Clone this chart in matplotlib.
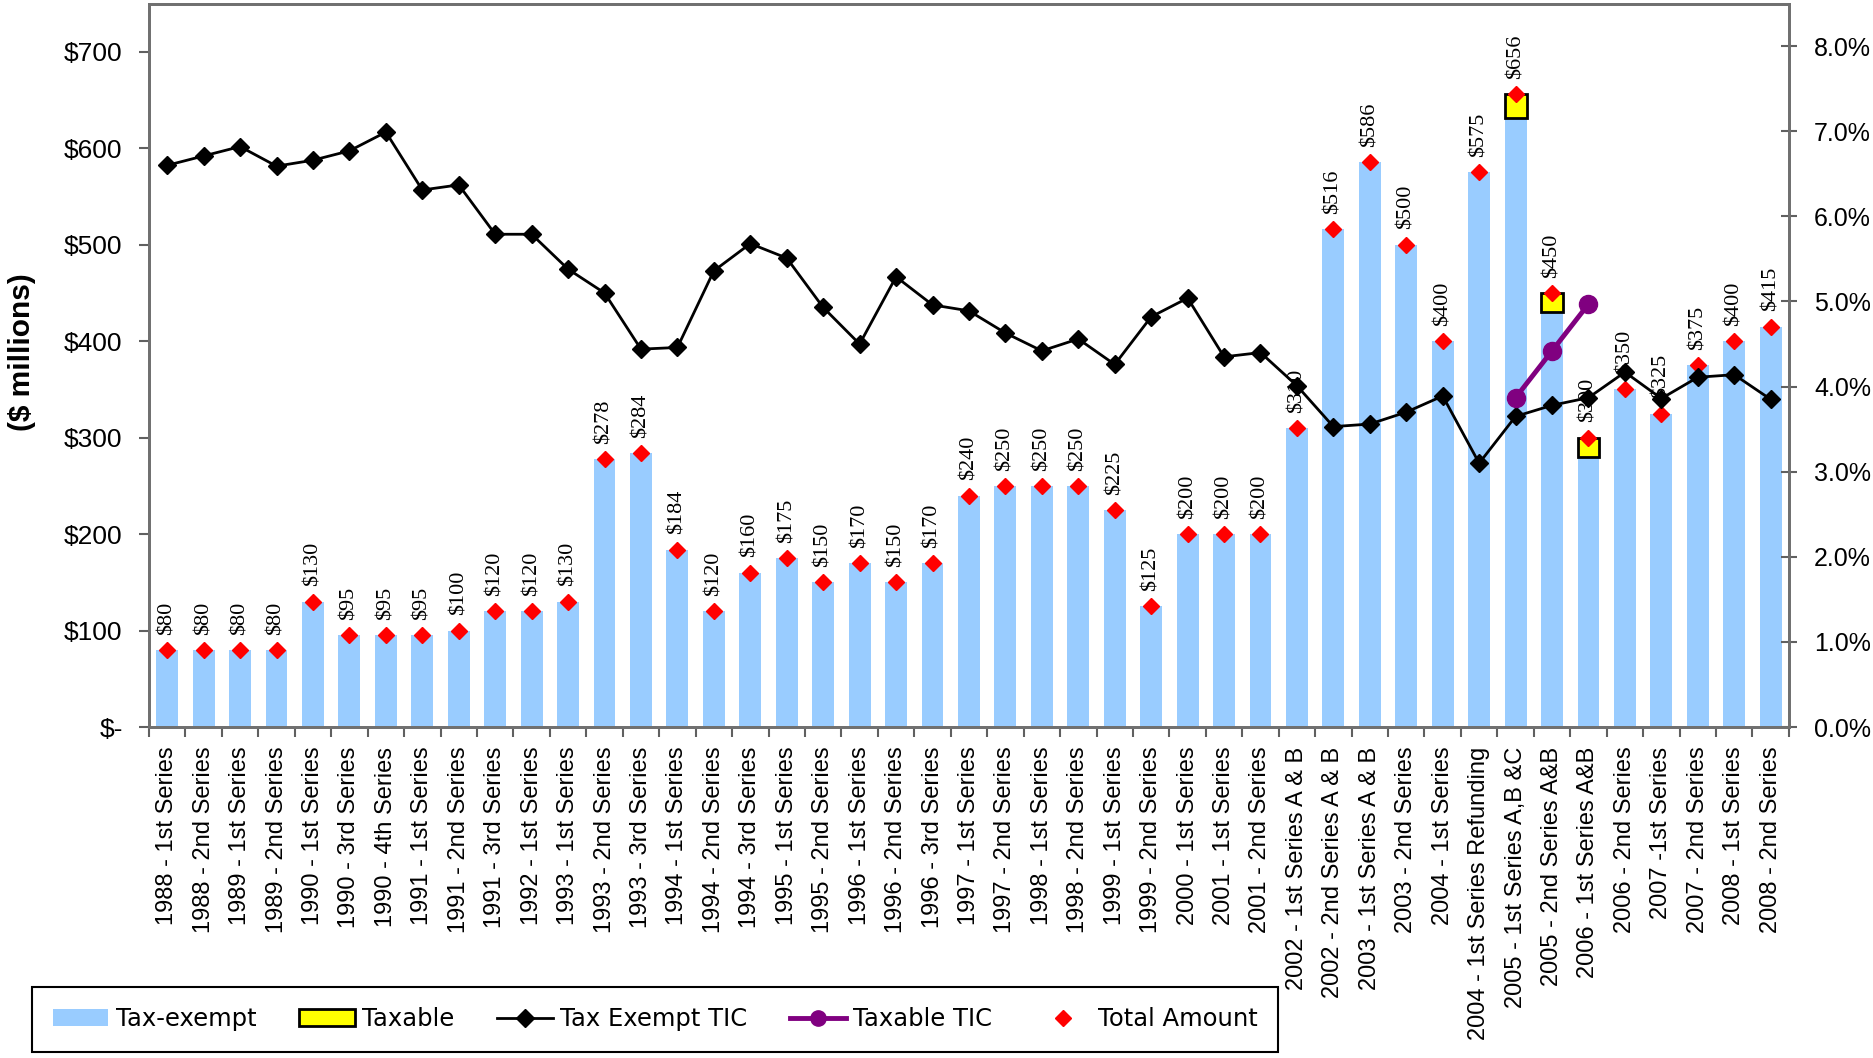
import numpy as np
import matplotlib
matplotlib.use("Agg")
from matplotlib import pyplot as plt
from matplotlib.patches import Patch
from matplotlib.lines import Line2D
from matplotlib.ticker import PercentFormatter

plt.rcParams['font.family'] = ['Liberation Sans', 'DejaVu Sans']

series = ['1988 - 1st Series', '1988 - 2nd Series', '1989 - 1st Series', '1989 - 2nd Series',
          '1990 - 1st Series', '1990 - 3rd Series', '1990 - 4th Series', '1991 - 1st Series',
          '1991 - 2nd Series', '1991 - 3rd Series', '1992 - 1st Series', '1993 - 1st Series',
          '1993 - 2nd Series', '1993 - 3rd Series', '1994 - 1st Series', '1994 - 2nd Series',
          '1994 - 3rd Series', '1995 - 1st Series', '1995 - 2nd Series', '1996 - 1st Series',
          '1996 - 2nd Series', '1996 - 3rd Series', '1997 - 1st Series', '1997 - 2nd Series',
          '1998 - 1st Series', '1998 - 2nd Series', '1999 - 1st Series', '1999 - 2nd Series',
          '2000 - 1st Series', '2001 - 1st Series', '2001 - 2nd Series', '2002 - 1st Series A & B',
          '2002 - 2nd Series A & B', '2003 - 1st Series A & B', '2003 - 2nd Series',
          '2004 - 1st Series', '2004 - 1st Series Refunding', '2005 - 1st Series A,B &C',
          '2005 - 2nd Series A&B', '2006 - 1st Series A&B', '2006 - 2nd Series',
          '2007 -1st Series', '2007 - 2nd Series', '2008 - 1st Series', '2008 - 2nd Series']

# $ millions
tax_exempt = [80, 80, 80, 80, 130, 95, 95, 95, 100, 120, 120, 130, 278, 284, 184, 120, 160, 175,
              150, 170, 150, 170, 240, 250, 250, 250, 225, 125, 200, 200, 200, 310, 516, 586,
              500, 400, 575, 631, 430, 280, 350, 325, 375, 400, 415]
taxable = [0] * 37 + [25, 20, 20] + [0] * 5

# true interest cost, %
tic_exempt = [6.60, 6.71, 6.82, 6.59, 6.66, 6.77, 6.99, 6.31, 6.37, 5.79,
              5.79, 5.38, 5.10, 4.44, 4.46, 5.36, 5.68, 5.51, 4.93, 4.50,
              5.29, 4.96, 4.89, 4.63, 4.42, 4.56, 4.26, 4.82, 5.04, 4.35,
              4.40, 4.01, 3.53, 3.56, 3.70, 3.89, 3.10, 3.65, 3.78, 3.87,
              4.17, 3.86, 4.11, 4.14, 3.85]
tic_taxable = [np.nan] * 37 + [3.87, 4.42, 4.97] + [np.nan] * 5

money_ticks = [0, 100, 200, 300, 400, 500, 600, 700]
money_labels = ['$-', '$100', '$200', '$300', '$400', '$500', '$600', '$700']

x = np.arange(len(series))
exempt = np.array(tax_exempt, dtype=float)
txbl = np.array(taxable, dtype=float)
total = exempt + txbl

fig = plt.figure(figsize=(18.74, 10.58), dpi=100)
ax = fig.add_axes([0.0795, 0.3128, 0.8751, 0.6838])
ax2 = ax.twinx()

ax.bar(x, exempt, width=0.6, color='#99CCFF', zorder=2)
mask = txbl > 0
ax.bar(x[mask], txbl[mask], bottom=exempt[mask], width=0.6, color='#FFFF00',
       edgecolor='black', linewidth=2, zorder=3)
ax.plot(x, total, linestyle='none', marker='D', markersize=8.5, color='#FF0000', zorder=4)
for xi, t in zip(x, total):
    ax.annotate('$%d' % t, (xi, t), xytext=(0, 11), textcoords='offset points',
                rotation=90, ha='center', va='bottom', fontsize=16,
                family='Liberation Serif', zorder=5)

ax2.plot(x, tic_exempt, color='black', linewidth=2, marker='D', markersize=9.5, zorder=3)
ax2.plot(x, tic_taxable, color='#800080', linewidth=3.5, marker='o', markersize=13, zorder=4)

ax.set_xlim(-0.5, len(series) - 0.5)
ax.set_ylim(0, 750)
ax2.set_ylim(0, 8.5)

ax.set_yticks(money_ticks)
ax.set_yticklabels(money_labels)
ax2.set_yticks(np.arange(0, 9))
ax2.yaxis.set_major_formatter(PercentFormatter(xmax=100, decimals=1))

# ticks sit between bars, names sit under bars
ax.set_xticks(np.arange(len(series) + 1) - 0.5)
ax.set_xticklabels([])
ax.set_xticks(x, minor=True)
ax.set_xticklabels(series, minor=True, rotation=90, va='top', ha='center', fontsize=17)
ax.tick_params(axis='x', which='major', direction='out', length=7, width=1.5, color='#606060')
ax.tick_params(axis='x', which='minor', length=0, pad=14)
ax.tick_params(axis='y', direction='out', length=7, width=1.5, color='#606060', labelsize=19, pad=12)
ax2.tick_params(axis='y', direction='inout', length=12, width=1.5, color='#606060', labelsize=18, pad=12)

for a in (ax, ax2):
    for s in a.spines.values():
        s.set_color('#707070')
        s.set_linewidth(2)

fig.text(0.012, 0.667, '($ millions)', rotation=90, ha='center', va='center',
         fontsize=21.5, fontweight='bold')

handles = [Patch(facecolor='#99CCFF', edgecolor='none'),
           Patch(facecolor='#FFFF00', edgecolor='black', linewidth=2),
           Line2D([], [], color='black', linewidth=2, marker='D', markersize=9),
           Line2D([], [], color='#800080', linewidth=3.5, marker='o', markersize=11),
           Line2D([], [], linestyle='none', marker='D', markersize=8, color='#FF0000')]
names = ['Tax-exempt', 'Taxable', 'Tax Exempt TIC', 'Taxable TIC', 'Total Amount']
leg = fig.legend(handles, names, ncol=5, loc='lower left',
                 bbox_to_anchor=(0.017, 0.0057),
                 prop={'family': 'DejaVu Sans', 'size': 17.5}, frameon=True,
                 fancybox=False, edgecolor='black', framealpha=1,
                 handlelength=2.3, handletextpad=0.3, columnspacing=1.75,
                 borderpad=0.85, borderaxespad=0)
leg.get_frame().set_linewidth(1.5)

fig.savefig('out.png', dpi=100)
